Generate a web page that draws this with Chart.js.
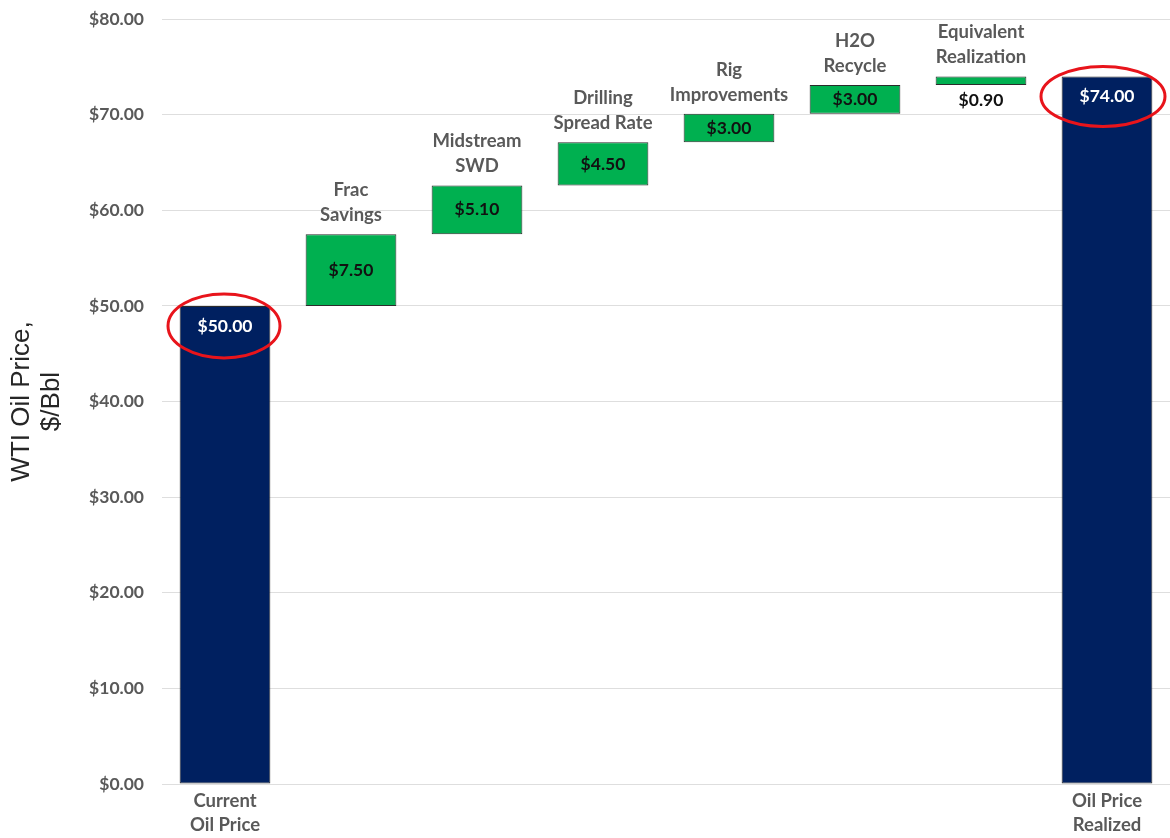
<!DOCTYPE html>
<html>
<head>
<meta charset="utf-8">
<script src="https://cdn.jsdelivr.net/npm/chart.js@4"></script>
<style>
	html, body { margin: 0; padding: 0; background: #fff; }
	#wrap { width: 1170px; height: 838px; }
</style>
</head>
<body>
<div id="wrap"><canvas id="waterfall"></canvas></div>
<script>
var categories = ["Current Oil Price", "Frac Savings", "Midstream SWD", "Drilling Spread Rate", "Rig Improvements", "H2O Recycle", "Equivalent Realization", "Oil Price Realized"];
var bottomLabels = [["Current", "Oil Price"], "", "", "", "", "", "", ["Oil Price", "Realized"]];
var topLabels = [null, ["Frac", "Savings"], ["Midstream", "SWD"], ["Drilling", "Spread Rate"], ["Rig", "Improvements"], ["H2O", "Recycle"], ["Equivalent", "Realization"], null];
var changes = [50.00, 7.50, 5.10, 4.50, 3.00, 3.00, 0.90, 74.00];
var isTotal = [true, false, false, false, false, false, false, true];
var valueText = ["$50.00", "$7.50", "$5.10", "$4.50", "$3.00", "$3.00", "$0.90", "$74.00"];

var navy = "#002060", green = "#00b050";

// floating ranges for the waterfall
var ranges = [], colors = [], running = 0;
for (var i = 0; i < changes.length; i++) {
	if (isTotal[i]) {
		ranges.push([0, changes[i]]);
		running = changes[i];
		colors.push(navy);
	} else {
		ranges.push([running, running + changes[i]]);
		running = running + changes[i];
		colors.push(green);
	}
}

var labelPlugin = {
	id: 'waterfallLabels',
	afterDatasetsDraw: function(chart) {
		var ctx = chart.ctx;
		var meta = chart.getDatasetMeta(0);
		ctx.save();
		ctx.textAlign = 'center';
		for (var i = 0; i < meta.data.length; i++) {
			var bar = meta.data[i];
			var top = Math.min(bar.y, bar.base);
			var bottom = Math.max(bar.y, bar.base);
			// category name above the step bars
			if (topLabels[i]) {
				ctx.font = "bold 18.5px Lato";
				ctx.fillStyle = "#595959";
				ctx.textBaseline = 'middle';
				ctx.fillText(topLabels[i][0], bar.x, top - 44);
				ctx.fillText(topLabels[i][1], bar.x, top - 19);
			}
			ctx.font = "bold 17.5px Lato";
			ctx.textBaseline = 'middle';
			if (isTotal[i]) {
				ctx.fillStyle = "#ffffff";
				ctx.fillText(valueText[i], bar.x, top + 20);
			} else if (bottom - top < 20) {
				ctx.fillStyle = "#111111";
				ctx.fillText(valueText[i], bar.x, bottom + 15);
			} else {
				ctx.fillStyle = "#111111";
				ctx.fillText(valueText[i], bar.x, (top + bottom) / 2);
			}
		}
		// red ellipses round the two totals
		ctx.strokeStyle = "#e8141b";
		ctx.lineWidth = 3;
		var first = meta.data[0], last = meta.data[meta.data.length - 1];
		ctx.beginPath();
		ctx.ellipse(first.x - 1, first.y + 20, 56, 32, 0, 0, Math.PI * 2);
		ctx.stroke();
		ctx.beginPath();
		ctx.ellipse(last.x - 4, last.y + 20, 62, 30, 0, 0, Math.PI * 2);
		ctx.stroke();
		ctx.restore();
	}
};

var config = {
	type: 'bar',
	data: {
		labels: categories,
		datasets: [
			{
				data: ranges,
				backgroundColor: colors,
				borderColor: "#2b2b2b",
				borderWidth: 1,
				borderSkipped: false,
				categoryPercentage: 1,
				barPercentage: 0.72
			}
		]
	},
	options: {
		responsive: true,
		maintainAspectRatio: false,
		animation: false,
		layout: { padding: { top: 19, right: -2, bottom: 0, left: 0 } },
		plugins: {
			legend: { display: false },
			tooltip: { enabled: false }
		},
		scales: {
			x: {
				grid: { display: false },
				border: { display: false },
				ticks: {
					color: "#595959",
					font: { family: "Lato", size: 18.5, weight: "bold", lineHeight: 1.3 },
					padding: -3,
					maxRotation: 0,
					autoSkip: false,
					callback: function(v, idx) { return bottomLabels[idx]; }
				},
				afterFit: function(scale) { scale.height = 54; }
			},
			y: {
				min: 0,
				max: 80,
				ticks: {
					stepSize: 10,
					color: "#595959",
					font: { family: "Lato", size: 17.5, weight: "bold" },
					padding: 18,
					callback: function(v) { return "$" + v.toFixed(2); }
				},
				grid: { color: "#dedede", lineWidth: 1, drawTicks: false },
				border: { display: false },
				title: {
					display: true,
					text: ["WTI Oil Price,", "$/Bbl"],
					color: "#262626",
					font: { family: "Liberation Sans", size: 26, lineHeight: 1.18 },
					padding: { top: 6, bottom: 0 }
				},
				afterFit: function(scale) {
					scale.width = 162;
					scale.paddingTop = 0;
					scale.paddingBottom = 0;
				}
			}
		}
	},
	plugins: [labelPlugin]
};

var chartStatus = Chart.getChart("waterfall");
if (chartStatus != undefined) {
	chartStatus.destroy();
}
var waterfallChart = new Chart(document.getElementById('waterfall'), config);
</script>
</body>
</html>
